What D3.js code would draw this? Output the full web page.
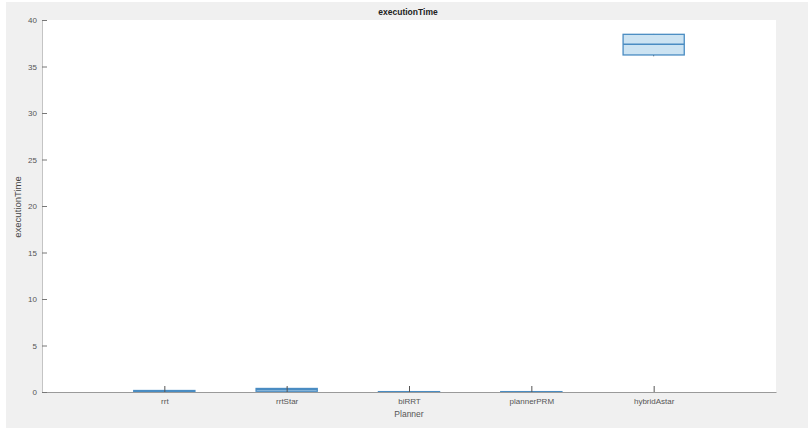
<!DOCTYPE html>
<html><head><meta charset="utf-8">
<script src="https://cdn.jsdelivr.net/npm/d3@7"></script>
<style>html,body{margin:0;padding:0;background:#fff;}svg{display:block;}</style>
</head><body>
<svg id="chart" width="808" height="428"></svg>
<script>
const categories = ["rrt", "rrtStar", "biRRT", "plannerPRM", "hybridAstar"];
const whiskerLow  = [0.05, 0.05, 0.01, 0.01, 36.1];
const q1Values    = [0.06, 0.08, 0.01, 0.01, 36.24];
const medianValues= [0.1, 0.25, 0.02, 0.02, 37.39];
const q3Values    = [0.16, 0.38, 0.04, 0.04, 38.46];
const whiskerHigh = [0.2, 0.45, 0.05, 0.05, 38.5];
const yTicks = [0, 5, 10, 15, 20, 25, 30, 35, 40];
const titleText = "executionTime";
const xLabel = "Planner";
const yLabel = "executionTime";

const svg = d3.select("#chart");
const W = 808, H = 428;
const m = {left: 42, right: 776, top: 20, bottom: 392};
const font = "Liberation Sans, Arial, sans-serif";

svg.append("rect").attr("x", 6).attr("y", 2).attr("width", W - 6).attr("height", H - 2).attr("fill", "#f0f0f0");
svg.append("rect").attr("x", m.left).attr("y", m.top).attr("width", m.right - m.left).attr("height", m.bottom - m.top).attr("fill", "#ffffff");

const x = d3.scaleLinear().domain([0, categories.length + 1]).range([m.left, m.right]);
const y = d3.scaleLinear().domain([0, 40]).range([m.bottom, m.top]);
const boxW = x(0.5) - x(0);

const data = categories.map((c, i) => ({c, i: i + 1, lo: whiskerLow[i], q1: q1Values[i], med: medianValues[i], q3: q3Values[i], hi: whiskerHigh[i]}));

const edge = "#4a8cc2", fill = "#cce3f2";
const g = svg.append("g");
data.forEach(d => {
  const cx = x(d.i);
  g.append("line").attr("x1", cx).attr("x2", cx).attr("y1", y(d.hi)).attr("y2", y(d.q3)).attr("stroke", "#555").attr("stroke-width", 1);
  g.append("line").attr("x1", cx).attr("x2", cx).attr("y1", y(d.q1)).attr("y2", y(d.lo)).attr("stroke", "#555").attr("stroke-width", 1);
  g.append("rect").attr("x", cx - boxW / 2).attr("width", boxW)
    .attr("y", y(d.q3)).attr("height", Math.max(0.5, y(d.q1) - y(d.q3)))
    .attr("fill", fill).attr("stroke", edge).attr("stroke-width", 1.3);
  g.append("line").attr("x1", cx - boxW / 2).attr("x2", cx + boxW / 2).attr("y1", y(d.med)).attr("y2", y(d.med)).attr("stroke", edge).attr("stroke-width", 1.3);
});

// axes
const axisColor = "#9a9a9a";
const xAxis = d3.axisBottom(x).tickValues(data.map(d => d.i)).tickFormat((v) => categories[v - 1]).tickSizeInner(-6).tickSizeOuter(0).tickPadding(6);
const gx = svg.append("g").attr("transform", `translate(0,${m.bottom})`).call(xAxis);
gx.select(".domain").attr("stroke", axisColor);
gx.selectAll(".tick line").attr("stroke", "#555");
gx.selectAll("text").attr("font-family", font).attr("font-size", 8).attr("fill", "#555");

const yAxis = d3.axisLeft(y).tickValues(yTicks).tickSizeInner(-5).tickSizeOuter(0).tickPadding(5);
const gy = svg.append("g").attr("transform", `translate(${m.left},0)`).call(yAxis);
gy.select(".domain").attr("stroke", "#c4c4c4");
gy.selectAll(".tick line").attr("stroke", "#777");
gy.selectAll("text").attr("font-family", font).attr("font-size", 8).attr("fill", "#555");

svg.append("text").attr("x", (m.left + m.right) / 2 - 1).attr("y", 15).attr("text-anchor", "middle")
  .attr("font-family", font).attr("font-size", 8.5).attr("font-weight", "bold").attr("fill", "#222").text(titleText);
svg.append("text").attr("x", (m.left + m.right) / 2).attr("y", 417).attr("text-anchor", "middle")
  .attr("font-family", font).attr("font-size", 8.5).attr("fill", "#555").text(xLabel);
svg.append("text").attr("transform", `translate(21,${(m.top + m.bottom) / 2 + 1}) rotate(-90)`).attr("text-anchor", "middle")
  .attr("font-family", font).attr("font-size", 9.5).attr("fill", "#444").text(yLabel);
</script>
</body></html>
